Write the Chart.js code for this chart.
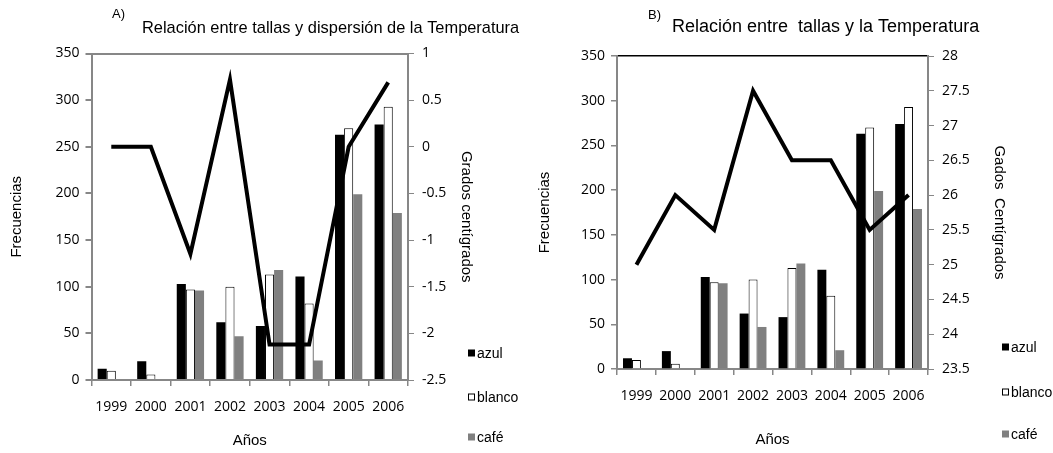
<!DOCTYPE html>
<html>
<head>
<meta charset="utf-8">
<script src="https://cdn.jsdelivr.net/npm/chart.js@4.4.1/dist/chart.umd.min.js"></script>
<style>
    html, body { margin: 0; padding: 0; background: #fff; }
    #wrap { position: relative; width: 1053px; height: 453px; }
    canvas { position: absolute; top: 0; }
    #chartA { left: 0; }
    #chartB { left: 530px; }
</style>
</head>
<body>
<div id="wrap">
    <canvas id="chartA" width="530" height="453"></canvas>
    <canvas id="chartB" width="523" height="453"></canvas>
</div>
<script>
// Data
const years = ["1999", "2000", "2001", "2002", "2003", "2004", "2005", "2006"];
const azul = [12, 20, 103, 62, 58, 111, 263, 274];
const blanco = [10, 6, 97, 100, 113, 82, 270, 293];
const cafe = [0, 0, 96, 47, 118, 21, 199, 179];
const dispersionTemp = [0, 0, -1.15, 0.72, -2.12, -2.12, 0, 0.69];
const temperatura = [25, 26, 25.5, 27.5, 26.5, 26.5, 25.5, 26];

// Axis ranges (tick labels come from these)
const freqRange = [0, 350, 50];
const dispRange = [-2.5, 1, 0.5];
const tempRange = [23.5, 28, 0.5];

const AXIS_GRAY = "#878787";
const TEXT_FONT = '"Liberation Sans", Arial, sans-serif';

Chart.defaults.font.family = '"Open Sans", sans-serif';
Chart.defaults.font.size = 14;
Chart.defaults.color = "#000";

// plain labels like Excel: 1, 0.5, -2.5, 28
const plainNumber = v => String(Math.round(v * 10) / 10);

// Titles, the small "A)"/"B)" tag and the legend at the bottom right
const decorPlugin = {
    id: "decor",
    afterDraw(chart, args, opts) {
        const ctx = chart.ctx;
        ctx.save();
        ctx.fillStyle = "#000";
        ctx.textBaseline = "middle";
        ctx.textAlign = "left";
        ctx.font = "13px " + TEXT_FONT;
        ctx.fillText(opts.tag, opts.tagX, opts.tagY);
        ctx.font = opts.titleSize + "px " + TEXT_FONT;
        ctx.fillText(opts.title, opts.titleX, opts.titleY);

        ctx.font = "14px " + TEXT_FONT;
        let k = 0;
        chart.data.datasets.forEach(ds => {
            if (ds.type === "line") return;
            const y = opts.legendY[k++];
            ctx.fillStyle = ds.backgroundColor;
            ctx.fillRect(opts.legendX, y - 3.5, 7, 7);
            if (ds.borderWidth) {
                ctx.strokeStyle = ds.borderColor;
                ctx.lineWidth = 1;
                ctx.strokeRect(opts.legendX + 0.5, y - 3, 6, 6);
            }
            ctx.fillStyle = "#000";
            ctx.fillText(ds.label, opts.legendX + 9, y + 1);
        });
        ctx.restore();
    }
};

function barSet(label, data, fill, border) {
    return {
        type: "bar",
        label: label,
        data: data,
        backgroundColor: fill,
        borderColor: border || fill,
        borderWidth: border ? 1 : 0,
        categoryPercentage: 0.69,
        barPercentage: 1,
        yAxisID: "y",
        order: 1
    };
}

function buildChart(id, c) {
    const ctx = document.getElementById(id).getContext("2d");
    return new Chart(ctx, {
        data: {
            labels: years,
            datasets: [
                {
                    type: "line",
                    label: c.lineLabel,
                    data: c.lineData,
                    borderColor: "#000",
                    borderWidth: 4,
                    pointRadius: 0,
                    tension: 0,
                    fill: false,
                    yAxisID: "y1",
                    order: 0
                },
                barSet("azul", azul, "#000000"),
                barSet("blanco", blanco, "#ffffff", "#000000"),
                barSet("café", cafe, "#808080")
            ]
        },
        options: {
            responsive: false,
            animation: false,
            devicePixelRatio: 1,
            layout: { padding: { left: 0, right: c.padRight, top: c.top, bottom: 0 } },
            plugins: {
                legend: { display: false },
                tooltip: { enabled: false },
                decor: c.decor
            },
            scales: {
                x: {
                    ticks: { padding: 13 },
                    grid: { offset: true, drawOnChartArea: false, tickLength: 6, color: AXIS_GRAY, lineWidth: 1.5 },
                    border: { color: AXIS_GRAY, width: 2 },
                    title: {
                        display: true, text: "Años", color: "#000",
                        font: { family: TEXT_FONT, size: 15 },
                        padding: { top: 0, bottom: c.xTitlePad }
                    },
                    afterFit: s => { s.height = c.xHeight; }
                },
                y: {
                    position: "left",
                    min: freqRange[0],
                    max: freqRange[1],
                    ticks: { stepSize: freqRange[2], padding: 6, callback: plainNumber },
                    grid: {
                        drawOnChartArea: true,
                        tickLength: 6,
                        lineWidth: c.topWidth,
                        color: g => (g.tick && g.tick.value === freqRange[1]) ? c.topColor : "rgba(0,0,0,0)",
                        tickColor: AXIS_GRAY
                    },
                    border: { color: AXIS_GRAY, width: 2 },
                    title: {
                        display: true, text: "Frecuencias", color: "#000",
                        font: { family: TEXT_FONT, size: 15 },
                        padding: { top: c.leftTitlePad, bottom: 0 }
                    },
                    afterFit: s => { s.width = c.leftWidth; }
                },
                y1: {
                    position: "right",
                    min: c.rightRange[0],
                    max: c.rightRange[1],
                    ticks: { stepSize: c.rightRange[2], padding: 8, callback: plainNumber },
                    grid: { drawOnChartArea: false, tickLength: 6, color: AXIS_GRAY },
                    border: { color: AXIS_GRAY, width: 2 },
                    title: {
                        display: true, text: c.rightTitle, color: "#000",
                        font: { family: TEXT_FONT, size: 15 },
                        padding: { top: c.rightTitlePad, bottom: 0 }
                    },
                    afterFit: s => { s.width = 80; }
                }
            }
        },
        plugins: [decorPlugin]
    });
}

// A) dispersion chart
buildChart("chartA", {
    lineLabel: "Dispersión",
    lineData: dispersionTemp,
    rightRange: dispRange,
    rightTitle: "Grados centígrados",
    top: 53.5,
    padRight: 42,
    leftWidth: 91.5,
    xHeight: 73,
    xTitlePad: 3,
    leftTitlePad: 8,
    rightTitlePad: 13,
    topColor: AXIS_GRAY,
    topWidth: 2,
    decor: {
        tag: "A)", tagX: 112, tagY: 14,
        title: "Relación entre tallas y dispersión de la Temperatura",
        titleX: 142, titleY: 28, titleSize: 16.4,
        legendX: 468, legendY: [353, 397, 437]
    }
});

// B) temperature chart
buildChart("chartB", {
    lineLabel: "Temperatura",
    lineData: temperatura,
    rightRange: tempRange,
    rightTitle: "Gados  Centígrados",
    top: 56,
    padRight: 45,
    leftWidth: 87,
    xHeight: 84,
    xTitlePad: 4,
    leftTitlePad: 6,
    rightTitlePad: 0,
    topColor: "#000000",
    topWidth: 1.5,
    decor: {
        tag: "B)", tagX: 118, tagY: 15,
        title: "Relación entre  tallas y la Temperatura",
        titleX: 142, titleY: 27, titleSize: 18,
        legendX: 472, legendY: [347, 392, 434]
    }
});
</script>
</body>
</html>
